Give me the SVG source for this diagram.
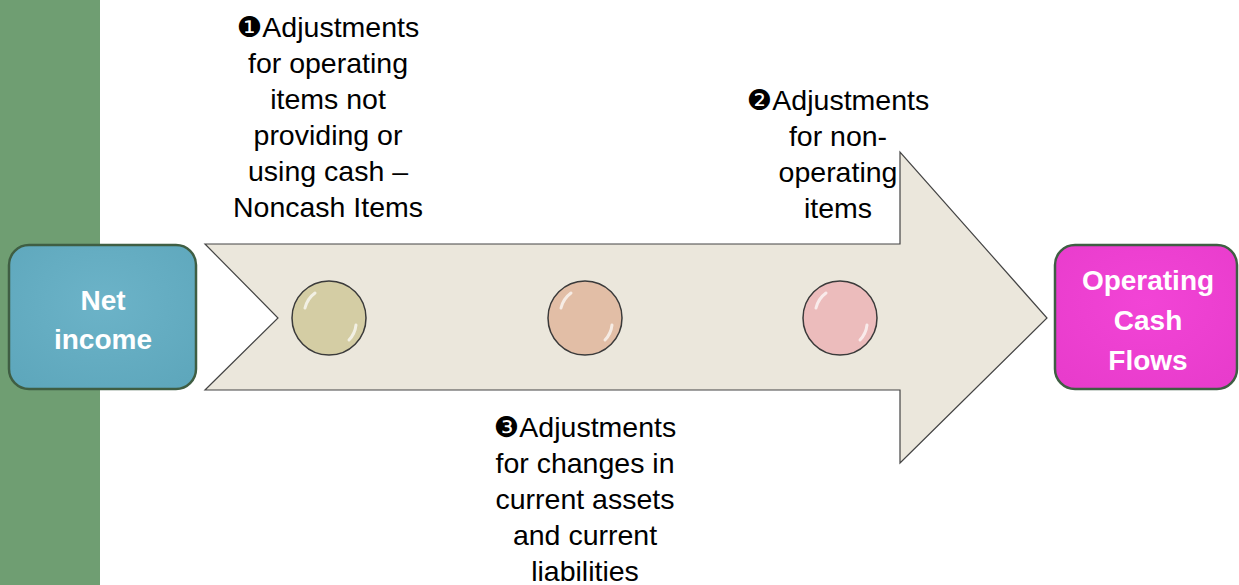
<svg xmlns="http://www.w3.org/2000/svg" width="1239" height="585" viewBox="0 0 1239 585">
<defs>
<style>
.lbl{font-family:"Liberation Sans","DejaVu Sans",sans-serif;font-size:28.5px;fill:#000;text-anchor:middle}
.box{font-family:"Liberation Sans","DejaVu Sans",sans-serif;font-size:28px;font-weight:bold;fill:#fff;text-anchor:middle}
.circ{stroke:#3a3a3a;stroke-width:1.5}
.hl{fill:none;stroke:#fff;stroke-opacity:0.7;stroke-width:3;stroke-linecap:round}
</style>
<radialGradient id="gBlue" cx="50%" cy="40%" r="70%"><stop offset="0" stop-color="#6cb3c8"/><stop offset="1" stop-color="#5ea7bc"/></radialGradient>
<radialGradient id="gPink" cx="50%" cy="40%" r="70%"><stop offset="0" stop-color="#f244d6"/><stop offset="1" stop-color="#e83ccc"/></radialGradient>
</defs>
<rect width="1239" height="585" fill="#fff"/>
<rect x="0" y="0" width="100" height="585" fill="#6f9e72"/>
<g id="connectors">
<path d="M205,244 L900,244 L900,152 L1047,318 L900,463 L900,390 L205,390 L278,318 Z" fill="#ebe7dc" stroke="#444" stroke-width="1.2"/>
</g>
<g id="net-income">
<rect x="9" y="245" width="187" height="144" rx="20" fill="url(#gBlue)" stroke="#3f5e43" stroke-width="2.5"/>
<text class="box" x="103" y="310">Net</text>
<text class="box" x="103" y="349">income</text>
</g>
<g id="operating-cash-flows">
<rect x="1055" y="245" width="182" height="144" rx="20" fill="url(#gPink)" stroke="#3f5e43" stroke-width="2.5"/>
<text class="box" x="1148" y="290">Operating</text>
<text class="box" x="1148" y="330">Cash</text>
<text class="box" x="1148" y="370">Flows</text>
</g>
<g id="circle-1"><circle class="circ" cx="329" cy="318" r="37" fill="#d4cda4"/><path class="hl" d="M305,308 A26,26 0 0 1 315,293"/><path class="hl" d="M356,325 A26,26 0 0 1 349,340"/></g>
<g id="circle-2"><circle class="circ" cx="585" cy="318" r="37" fill="#e2bea6"/><path class="hl" d="M561,308 A26,26 0 0 1 571,293"/><path class="hl" d="M612,325 A26,26 0 0 1 605,340"/></g>
<g id="circle-3"><circle class="circ" cx="840" cy="318" r="37" fill="#ecbcbc"/><path class="hl" d="M816,308 A26,26 0 0 1 826,293"/><path class="hl" d="M867,325 A26,26 0 0 1 860,340"/></g>
<g id="label-1">
<text class="lbl" x="328" y="37">❶Adjustments</text>
<text class="lbl" x="328" y="73">for operating</text>
<text class="lbl" x="328" y="109">items not</text>
<text class="lbl" x="328" y="145">providing or</text>
<text class="lbl" x="328" y="181">using cash –</text>
<text class="lbl" x="328" y="217">Noncash Items</text>
</g>
<g id="label-2">
<text class="lbl" x="838" y="110">❷Adjustments</text>
<text class="lbl" x="838" y="146">for non-</text>
<text class="lbl" x="838" y="182">operating</text>
<text class="lbl" x="838" y="218">items</text>
</g>
<g id="label-3">
<text class="lbl" x="585" y="437">❸Adjustments</text>
<text class="lbl" x="585" y="473">for changes in</text>
<text class="lbl" x="585" y="509">current assets</text>
<text class="lbl" x="585" y="545">and current</text>
<text class="lbl" x="585" y="581">liabilities</text>
</g>
</svg>
